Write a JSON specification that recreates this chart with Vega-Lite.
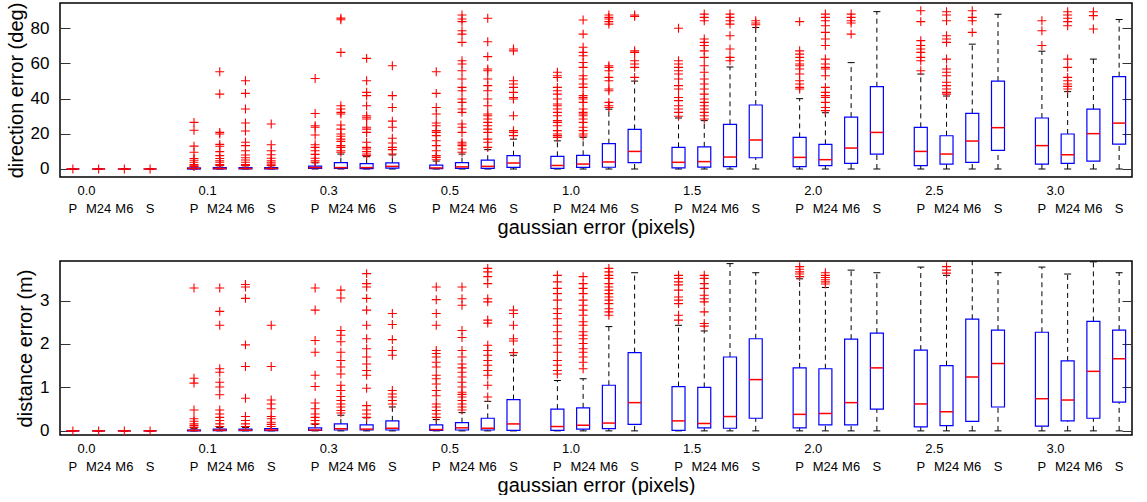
{
  "$schema": "https://vega.github.io/schema/vega-lite/v6.json",
  "padding": {"left": 5, "top": 1, "right": 5, "bottom": 0},
  "config": {
    "font": "Liberation Sans",
    "view": {"stroke": "#000", "strokeWidth": 1.5},
    "axis": {"grid": false, "labelColor": "#000", "titleColor": "#000", "titleFontWeight": "normal"}
  },
  "datasets": {
    "dirBox": [
      {"g": "0.0", "m": "P", "lo": 0, "q1": 0, "med": 0, "q3": 0, "hi": 0},
      {"g": "0.0", "m": "M24", "lo": 0, "q1": 0, "med": 0, "q3": 0, "hi": 0},
      {"g": "0.0", "m": "M6", "lo": 0, "q1": 0, "med": 0, "q3": 0, "hi": 0},
      {"g": "0.0", "m": "S", "lo": 0, "q1": 0, "med": 0, "q3": 0, "hi": 0},
      {"g": "0.1", "m": "P", "lo": 0, "q1": 0, "med": 0.3, "q3": 0.6, "hi": 1.2},
      {"g": "0.1", "m": "M24", "lo": 0, "q1": 0.1, "med": 0.3, "q3": 0.8, "hi": 1.8},
      {"g": "0.1", "m": "M6", "lo": 0, "q1": 0.1, "med": 0.3, "q3": 0.8, "hi": 1.8},
      {"g": "0.1", "m": "S", "lo": 0, "q1": 0.1, "med": 0.3, "q3": 0.8, "hi": 1.8},
      {"g": "0.3", "m": "P", "lo": 0, "q1": 0.3, "med": 0.8, "q3": 1.6, "hi": 3.5},
      {"g": "0.3", "m": "M24", "lo": 0, "q1": 0.3, "med": 0.8, "q3": 3.6, "hi": 8.5},
      {"g": "0.3", "m": "M6", "lo": 0, "q1": 0.2, "med": 0.8, "q3": 3, "hi": 7},
      {"g": "0.3", "m": "S", "lo": 0, "q1": 0.5, "med": 1.5, "q3": 3.5, "hi": 8},
      {"g": "0.5", "m": "P", "lo": 0, "q1": 0.2, "med": 0.6, "q3": 2.2, "hi": 4.5},
      {"g": "0.5", "m": "M24", "lo": 0, "q1": 0.3, "med": 1.2, "q3": 3.6, "hi": 8.5},
      {"g": "0.5", "m": "M6", "lo": 0, "q1": 0.3, "med": 1.5, "q3": 5, "hi": 11},
      {"g": "0.5", "m": "S", "lo": 0, "q1": 0.9, "med": 3.4, "q3": 7.6, "hi": 17},
      {"g": "1.0", "m": "P", "lo": 0, "q1": 0.3, "med": 2, "q3": 7.2, "hi": 16},
      {"g": "1.0", "m": "M24", "lo": 0, "q1": 0.9, "med": 2.8, "q3": 7.8, "hi": 18},
      {"g": "1.0", "m": "M6", "lo": 0, "q1": 1, "med": 4, "q3": 14.4, "hi": 34},
      {"g": "1.0", "m": "S", "lo": 0, "q1": 3.6, "med": 10, "q3": 22.5, "hi": 50},
      {"g": "1.5", "m": "P", "lo": 0, "q1": 0.6, "med": 3.8, "q3": 12.3, "hi": 29},
      {"g": "1.5", "m": "M24", "lo": 0, "q1": 1.1, "med": 4.2, "q3": 12.6, "hi": 27.5},
      {"g": "1.5", "m": "M6", "lo": 0, "q1": 1.3, "med": 6.8, "q3": 25.4, "hi": 58},
      {"g": "1.5", "m": "S", "lo": 0, "q1": 6.4, "med": 16.5, "q3": 36.4, "hi": 80.5},
      {"g": "2.0", "m": "P", "lo": 0, "q1": 1.3, "med": 6.6, "q3": 18, "hi": 40},
      {"g": "2.0", "m": "M24", "lo": 0, "q1": 1.9, "med": 5.3, "q3": 14, "hi": 32},
      {"g": "2.0", "m": "M6", "lo": 0, "q1": 3.2, "med": 11.9, "q3": 29.5, "hi": 60.5},
      {"g": "2.0", "m": "S", "lo": 0, "q1": 8.5, "med": 20.8, "q3": 46.8, "hi": 89.5},
      {"g": "2.5", "m": "P", "lo": 0, "q1": 1.9, "med": 10, "q3": 23.7, "hi": 54},
      {"g": "2.5", "m": "M24", "lo": 0, "q1": 2.8, "med": 8.5, "q3": 18.9, "hi": 41.5},
      {"g": "2.5", "m": "M6", "lo": 0, "q1": 3.8, "med": 15.9, "q3": 31.6, "hi": 71},
      {"g": "2.5", "m": "S", "lo": 0, "q1": 10.6, "med": 23.5, "q3": 50, "hi": 88},
      {"g": "3.0", "m": "P", "lo": 0, "q1": 2.8, "med": 13.3, "q3": 29, "hi": 67},
      {"g": "3.0", "m": "M24", "lo": 0, "q1": 3.2, "med": 8.1, "q3": 19.9, "hi": 44},
      {"g": "3.0", "m": "M6", "lo": 0, "q1": 4.5, "med": 20.1, "q3": 34.1, "hi": 62.5},
      {"g": "3.0", "m": "S", "lo": 0, "q1": 14.2, "med": 26.1, "q3": 52.5, "hi": 85}
    ],
    "dirOut": [
      {"g": "0.0", "m": "P", "v": 0}, {"g": "0.0", "m": "M24", "v": 0}, {"g": "0.0", "m": "M6", "v": 0}, {"g": "0.0", "m": "S", "v": 0},
      {"g": "0.1", "m": "P", "v": 26.5}, {"g": "0.1", "m": "P", "v": 22}, {"g": "0.1", "m": "P", "v": 13}, {"g": "0.1", "m": "P", "v": 9.5}, {"g": "0.1", "m": "P", "v": 6}, {"g": "0.1", "m": "P", "v": 5}, {"g": "0.1", "m": "P", "v": 3.8}, {"g": "0.1", "m": "P", "v": 2.5}, {"g": "0.1", "m": "P", "v": 1.8}, {"g": "0.1", "m": "P", "v": 1.4},
      {"g": "0.1", "m": "M24", "v": 55.3}, {"g": "0.1", "m": "M24", "v": 42.6}, {"g": "0.1", "m": "M24", "v": 20.8}, {"g": "0.1", "m": "M24", "v": 19.9}, {"g": "0.1", "m": "M24", "v": 14}, {"g": "0.1", "m": "M24", "v": 12.9}, {"g": "0.1", "m": "M24", "v": 9.9}, {"g": "0.1", "m": "M24", "v": 7.6}, {"g": "0.1", "m": "M24", "v": 6}, {"g": "0.1", "m": "M24", "v": 4.7}, {"g": "0.1", "m": "M24", "v": 3.8}, {"g": "0.1", "m": "M24", "v": 2.5}, {"g": "0.1", "m": "M24", "v": 2},
      {"g": "0.1", "m": "M6", "v": 50.2}, {"g": "0.1", "m": "M6", "v": 43}, {"g": "0.1", "m": "M6", "v": 34.1}, {"g": "0.1", "m": "M6", "v": 26.2}, {"g": "0.1", "m": "M6", "v": 21.6}, {"g": "0.1", "m": "M6", "v": 15.2}, {"g": "0.1", "m": "M6", "v": 13.3}, {"g": "0.1", "m": "M6", "v": 10.4}, {"g": "0.1", "m": "M6", "v": 8}, {"g": "0.1", "m": "M6", "v": 6.4}, {"g": "0.1", "m": "M6", "v": 5.1}, {"g": "0.1", "m": "M6", "v": 3.8}, {"g": "0.1", "m": "M6", "v": 2.5}, {"g": "0.1", "m": "M6", "v": 2},
      {"g": "0.1", "m": "S", "v": 25.6}, {"g": "0.1", "m": "S", "v": 13.8}, {"g": "0.1", "m": "S", "v": 10.4}, {"g": "0.1", "m": "S", "v": 8.1}, {"g": "0.1", "m": "S", "v": 6.1}, {"g": "0.1", "m": "S", "v": 4.7}, {"g": "0.1", "m": "S", "v": 3.8}, {"g": "0.1", "m": "S", "v": 2.8}, {"g": "0.1", "m": "S", "v": 2},
      {"g": "0.3", "m": "P", "v": 51.5}, {"g": "0.3", "m": "P", "v": 31.6}, {"g": "0.3", "m": "P", "v": 24.6}, {"g": "0.3", "m": "P", "v": 23.7}, {"g": "0.3", "m": "P", "v": 19.3}, {"g": "0.3", "m": "P", "v": 13.8}, {"g": "0.3", "m": "P", "v": 12.3}, {"g": "0.3", "m": "P", "v": 10.4}, {"g": "0.3", "m": "P", "v": 8.3}, {"g": "0.3", "m": "P", "v": 6.1}, {"g": "0.3", "m": "P", "v": 4.7}, {"g": "0.3", "m": "P", "v": 3.8},
      {"g": "0.3", "m": "M24", "v": 85.8}, {"g": "0.3", "m": "M24", "v": 84.9}, {"g": "0.3", "m": "M24", "v": 66.3}, {"g": "0.3", "m": "M24", "v": 36}, {"g": "0.3", "m": "M24", "v": 34.1}, {"g": "0.3", "m": "M24", "v": 32.2}, {"g": "0.3", "m": "M24", "v": 31.3}, {"g": "0.3", "m": "M24", "v": 25}, {"g": "0.3", "m": "M24", "v": 22.7}, {"g": "0.3", "m": "M24", "v": 19.9}, {"g": "0.3", "m": "M24", "v": 18.6}, {"g": "0.3", "m": "M24", "v": 17}, {"g": "0.3", "m": "M24", "v": 15.7}, {"g": "0.3", "m": "M24", "v": 13.3}, {"g": "0.3", "m": "M24", "v": 12.3}, {"g": "0.3", "m": "M24", "v": 10.4}, {"g": "0.3", "m": "M24", "v": 9.5},
      {"g": "0.3", "m": "M6", "v": 62.9}, {"g": "0.3", "m": "M6", "v": 50.2}, {"g": "0.3", "m": "M6", "v": 43.6}, {"g": "0.3", "m": "M6", "v": 41.7}, {"g": "0.3", "m": "M6", "v": 36}, {"g": "0.3", "m": "M6", "v": 30.3}, {"g": "0.3", "m": "M6", "v": 29.4}, {"g": "0.3", "m": "M6", "v": 28.4}, {"g": "0.3", "m": "M6", "v": 23.7}, {"g": "0.3", "m": "M6", "v": 22.7}, {"g": "0.3", "m": "M6", "v": 20.8}, {"g": "0.3", "m": "M6", "v": 15.2}, {"g": "0.3", "m": "M6", "v": 12.3}, {"g": "0.3", "m": "M6", "v": 11.4}, {"g": "0.3", "m": "M6", "v": 9.9}, {"g": "0.3", "m": "M6", "v": 8.5}, {"g": "0.3", "m": "M6", "v": 7.6},
      {"g": "0.3", "m": "S", "v": 58.7}, {"g": "0.3", "m": "S", "v": 41.7}, {"g": "0.3", "m": "S", "v": 35}, {"g": "0.3", "m": "S", "v": 27.2}, {"g": "0.3", "m": "S", "v": 23.7}, {"g": "0.3", "m": "S", "v": 17.5}, {"g": "0.3", "m": "S", "v": 14.8}, {"g": "0.3", "m": "S", "v": 12.3}, {"g": "0.3", "m": "S", "v": 11}, {"g": "0.3", "m": "S", "v": 8.5},
      {"g": "0.5", "m": "P", "v": 55.3}, {"g": "0.5", "m": "P", "v": 43}, {"g": "0.5", "m": "P", "v": 35}, {"g": "0.5", "m": "P", "v": 31.3}, {"g": "0.5", "m": "P", "v": 26.2}, {"g": "0.5", "m": "P", "v": 24.6}, {"g": "0.5", "m": "P", "v": 21.8}, {"g": "0.5", "m": "P", "v": 20.8}, {"g": "0.5", "m": "P", "v": 19}, {"g": "0.5", "m": "P", "v": 16.1}, {"g": "0.5", "m": "P", "v": 13.3}, {"g": "0.5", "m": "P", "v": 10.4}, {"g": "0.5", "m": "P", "v": 7.6}, {"g": "0.5", "m": "P", "v": 6.6}, {"g": "0.5", "m": "P", "v": 5.3},
      {"g": "0.5", "m": "M24", "v": 87.6}, {"g": "0.5", "m": "M24", "v": 85.3}, {"g": "0.5", "m": "M24", "v": 83.8}, {"g": "0.5", "m": "M24", "v": 78.6}, {"g": "0.5", "m": "M24", "v": 76.7}, {"g": "0.5", "m": "M24", "v": 72}, {"g": "0.5", "m": "M24", "v": 61.6}, {"g": "0.5", "m": "M24", "v": 59.7}, {"g": "0.5", "m": "M24", "v": 55.9}, {"g": "0.5", "m": "M24", "v": 51.2}, {"g": "0.5", "m": "M24", "v": 46.4}, {"g": "0.5", "m": "M24", "v": 44.5}, {"g": "0.5", "m": "M24", "v": 39.8}, {"g": "0.5", "m": "M24", "v": 37.9}, {"g": "0.5", "m": "M24", "v": 34.1}, {"g": "0.5", "m": "M24", "v": 32.2}, {"g": "0.5", "m": "M24", "v": 25.6}, {"g": "0.5", "m": "M24", "v": 23.7}, {"g": "0.5", "m": "M24", "v": 20.8}, {"g": "0.5", "m": "M24", "v": 15.2}, {"g": "0.5", "m": "M24", "v": 14.2}, {"g": "0.5", "m": "M24", "v": 13.3}, {"g": "0.5", "m": "M24", "v": 11.4}, {"g": "0.5", "m": "M24", "v": 9.5},
      {"g": "0.5", "m": "M6", "v": 85.7}, {"g": "0.5", "m": "M6", "v": 72.4}, {"g": "0.5", "m": "M6", "v": 63.9}, {"g": "0.5", "m": "M6", "v": 56.9}, {"g": "0.5", "m": "M6", "v": 55.9}, {"g": "0.5", "m": "M6", "v": 51.2}, {"g": "0.5", "m": "M6", "v": 47.4}, {"g": "0.5", "m": "M6", "v": 44.5}, {"g": "0.5", "m": "M6", "v": 39.8}, {"g": "0.5", "m": "M6", "v": 36}, {"g": "0.5", "m": "M6", "v": 31.3}, {"g": "0.5", "m": "M6", "v": 30.3}, {"g": "0.5", "m": "M6", "v": 28.4}, {"g": "0.5", "m": "M6", "v": 26.5}, {"g": "0.5", "m": "M6", "v": 24.6}, {"g": "0.5", "m": "M6", "v": 22.7}, {"g": "0.5", "m": "M6", "v": 20.8}, {"g": "0.5", "m": "M6", "v": 17}, {"g": "0.5", "m": "M6", "v": 15.2}, {"g": "0.5", "m": "M6", "v": 12.3},
      {"g": "0.5", "m": "S", "v": 68.2}, {"g": "0.5", "m": "S", "v": 67.2}, {"g": "0.5", "m": "S", "v": 50.2}, {"g": "0.5", "m": "S", "v": 48.3}, {"g": "0.5", "m": "S", "v": 46.4}, {"g": "0.5", "m": "S", "v": 43.6}, {"g": "0.5", "m": "S", "v": 40.7}, {"g": "0.5", "m": "S", "v": 39.8}, {"g": "0.5", "m": "S", "v": 30.3}, {"g": "0.5", "m": "S", "v": 21.8}, {"g": "0.5", "m": "S", "v": 20.8}, {"g": "0.5", "m": "S", "v": 19},
      {"g": "1.0", "m": "P", "v": 55}, {"g": "1.0", "m": "P", "v": 53}, {"g": "1.0", "m": "P", "v": 52}, {"g": "1.0", "m": "P", "v": 46.4}, {"g": "1.0", "m": "P", "v": 44.5}, {"g": "1.0", "m": "P", "v": 42.6}, {"g": "1.0", "m": "P", "v": 39.8}, {"g": "1.0", "m": "P", "v": 37}, {"g": "1.0", "m": "P", "v": 36}, {"g": "1.0", "m": "P", "v": 34.1}, {"g": "1.0", "m": "P", "v": 32.2}, {"g": "1.0", "m": "P", "v": 30.3}, {"g": "1.0", "m": "P", "v": 27.5}, {"g": "1.0", "m": "P", "v": 26.5}, {"g": "1.0", "m": "P", "v": 24.6}, {"g": "1.0", "m": "P", "v": 21.8}, {"g": "1.0", "m": "P", "v": 19.9}, {"g": "1.0", "m": "P", "v": 19}, {"g": "1.0", "m": "P", "v": 18},
      {"g": "1.0", "m": "M24", "v": 84.7}, {"g": "1.0", "m": "M24", "v": 76.7}, {"g": "1.0", "m": "M24", "v": 69.2}, {"g": "1.0", "m": "M24", "v": 66.3}, {"g": "1.0", "m": "M24", "v": 64.4}, {"g": "1.0", "m": "M24", "v": 60.6}, {"g": "1.0", "m": "M24", "v": 57.8}, {"g": "1.0", "m": "M24", "v": 53}, {"g": "1.0", "m": "M24", "v": 51.2}, {"g": "1.0", "m": "M24", "v": 48.3}, {"g": "1.0", "m": "M24", "v": 46.4}, {"g": "1.0", "m": "M24", "v": 41.7}, {"g": "1.0", "m": "M24", "v": 40.7}, {"g": "1.0", "m": "M24", "v": 39.8}, {"g": "1.0", "m": "M24", "v": 37.9}, {"g": "1.0", "m": "M24", "v": 34.1}, {"g": "1.0", "m": "M24", "v": 32.2}, {"g": "1.0", "m": "M24", "v": 31.3}, {"g": "1.0", "m": "M24", "v": 30.3}, {"g": "1.0", "m": "M24", "v": 28.4}, {"g": "1.0", "m": "M24", "v": 26.5}, {"g": "1.0", "m": "M24", "v": 23.7}, {"g": "1.0", "m": "M24", "v": 21.8}, {"g": "1.0", "m": "M24", "v": 19.9}, {"g": "1.0", "m": "M24", "v": 18.8},
      {"g": "1.0", "m": "M6", "v": 87.6}, {"g": "1.0", "m": "M6", "v": 86.2}, {"g": "1.0", "m": "M6", "v": 85.3}, {"g": "1.0", "m": "M6", "v": 83.8}, {"g": "1.0", "m": "M6", "v": 82.4}, {"g": "1.0", "m": "M6", "v": 58.7}, {"g": "1.0", "m": "M6", "v": 57.8}, {"g": "1.0", "m": "M6", "v": 55.9}, {"g": "1.0", "m": "M6", "v": 52.1}, {"g": "1.0", "m": "M6", "v": 50.2}, {"g": "1.0", "m": "M6", "v": 45.5}, {"g": "1.0", "m": "M6", "v": 44.5}, {"g": "1.0", "m": "M6", "v": 37.9}, {"g": "1.0", "m": "M6", "v": 36}, {"g": "1.0", "m": "M6", "v": 35},
      {"g": "1.0", "m": "S", "v": 87.6}, {"g": "1.0", "m": "S", "v": 86.8}, {"g": "1.0", "m": "S", "v": 67.2}, {"g": "1.0", "m": "S", "v": 66.3}, {"g": "1.0", "m": "S", "v": 61.6}, {"g": "1.0", "m": "S", "v": 59.7}, {"g": "1.0", "m": "S", "v": 57.8}, {"g": "1.0", "m": "S", "v": 52.1},
      {"g": "1.5", "m": "P", "v": 80}, {"g": "1.5", "m": "P", "v": 61.6}, {"g": "1.5", "m": "P", "v": 59.7}, {"g": "1.5", "m": "P", "v": 57.8}, {"g": "1.5", "m": "P", "v": 55.9}, {"g": "1.5", "m": "P", "v": 54}, {"g": "1.5", "m": "P", "v": 51.2}, {"g": "1.5", "m": "P", "v": 47.4}, {"g": "1.5", "m": "P", "v": 45.5}, {"g": "1.5", "m": "P", "v": 40.7}, {"g": "1.5", "m": "P", "v": 38.9}, {"g": "1.5", "m": "P", "v": 36}, {"g": "1.5", "m": "P", "v": 34.1}, {"g": "1.5", "m": "P", "v": 32.2}, {"g": "1.5", "m": "P", "v": 30},
      {"g": "1.5", "m": "M24", "v": 88.1}, {"g": "1.5", "m": "M24", "v": 86.2}, {"g": "1.5", "m": "M24", "v": 84.3}, {"g": "1.5", "m": "M24", "v": 73.9}, {"g": "1.5", "m": "M24", "v": 72}, {"g": "1.5", "m": "M24", "v": 70.2}, {"g": "1.5", "m": "M24", "v": 67.2}, {"g": "1.5", "m": "M24", "v": 63.5}, {"g": "1.5", "m": "M24", "v": 58.7}, {"g": "1.5", "m": "M24", "v": 55}, {"g": "1.5", "m": "M24", "v": 51.2}, {"g": "1.5", "m": "M24", "v": 48.3}, {"g": "1.5", "m": "M24", "v": 45.5}, {"g": "1.5", "m": "M24", "v": 42.6}, {"g": "1.5", "m": "M24", "v": 39.8}, {"g": "1.5", "m": "M24", "v": 37.9}, {"g": "1.5", "m": "M24", "v": 36}, {"g": "1.5", "m": "M24", "v": 34.1}, {"g": "1.5", "m": "M24", "v": 32.2}, {"g": "1.5", "m": "M24", "v": 30.3}, {"g": "1.5", "m": "M24", "v": 28.4},
      {"g": "1.5", "m": "M6", "v": 88.1}, {"g": "1.5", "m": "M6", "v": 86.2}, {"g": "1.5", "m": "M6", "v": 84.3}, {"g": "1.5", "m": "M6", "v": 82.4}, {"g": "1.5", "m": "M6", "v": 75.8}, {"g": "1.5", "m": "M6", "v": 68.2}, {"g": "1.5", "m": "M6", "v": 63.5}, {"g": "1.5", "m": "M6", "v": 61.6},
      {"g": "1.5", "m": "S", "v": 84.3}, {"g": "1.5", "m": "S", "v": 83}, {"g": "1.5", "m": "S", "v": 82},
      {"g": "2.0", "m": "P", "v": 83.8}, {"g": "2.0", "m": "P", "v": 67.2}, {"g": "2.0", "m": "P", "v": 65.3}, {"g": "2.0", "m": "P", "v": 63.5}, {"g": "2.0", "m": "P", "v": 61.6}, {"g": "2.0", "m": "P", "v": 59.7}, {"g": "2.0", "m": "P", "v": 58.7}, {"g": "2.0", "m": "P", "v": 56.9}, {"g": "2.0", "m": "P", "v": 54}, {"g": "2.0", "m": "P", "v": 50.2}, {"g": "2.0", "m": "P", "v": 48.3}, {"g": "2.0", "m": "P", "v": 46.4}, {"g": "2.0", "m": "P", "v": 45.5},
      {"g": "2.0", "m": "M24", "v": 88.1}, {"g": "2.0", "m": "M24", "v": 86.2}, {"g": "2.0", "m": "M24", "v": 84.3}, {"g": "2.0", "m": "M24", "v": 81.5}, {"g": "2.0", "m": "M24", "v": 77.7}, {"g": "2.0", "m": "M24", "v": 73.9}, {"g": "2.0", "m": "M24", "v": 70.2}, {"g": "2.0", "m": "M24", "v": 62.5}, {"g": "2.0", "m": "M24", "v": 59.7}, {"g": "2.0", "m": "M24", "v": 57.8}, {"g": "2.0", "m": "M24", "v": 56.9}, {"g": "2.0", "m": "M24", "v": 53}, {"g": "2.0", "m": "M24", "v": 46.4}, {"g": "2.0", "m": "M24", "v": 43.6}, {"g": "2.0", "m": "M24", "v": 41.7}, {"g": "2.0", "m": "M24", "v": 40.7}, {"g": "2.0", "m": "M24", "v": 37.9}, {"g": "2.0", "m": "M24", "v": 35}, {"g": "2.0", "m": "M24", "v": 33.2},
      {"g": "2.0", "m": "M6", "v": 88.1}, {"g": "2.0", "m": "M6", "v": 86.2}, {"g": "2.0", "m": "M6", "v": 84.3}, {"g": "2.0", "m": "M6", "v": 83}, {"g": "2.0", "m": "M6", "v": 76.7},
      {"g": "2.5", "m": "P", "v": 90}, {"g": "2.5", "m": "P", "v": 83.8}, {"g": "2.5", "m": "P", "v": 73}, {"g": "2.5", "m": "P", "v": 70.2}, {"g": "2.5", "m": "P", "v": 68.2}, {"g": "2.5", "m": "P", "v": 66.3}, {"g": "2.5", "m": "P", "v": 63.5}, {"g": "2.5", "m": "P", "v": 61.6}, {"g": "2.5", "m": "P", "v": 55.9},
      {"g": "2.5", "m": "M24", "v": 89.4}, {"g": "2.5", "m": "M24", "v": 87.6}, {"g": "2.5", "m": "M24", "v": 84.3}, {"g": "2.5", "m": "M24", "v": 75.8}, {"g": "2.5", "m": "M24", "v": 73.9}, {"g": "2.5", "m": "M24", "v": 72}, {"g": "2.5", "m": "M24", "v": 62.5}, {"g": "2.5", "m": "M24", "v": 56.9}, {"g": "2.5", "m": "M24", "v": 55}, {"g": "2.5", "m": "M24", "v": 53}, {"g": "2.5", "m": "M24", "v": 49.3}, {"g": "2.5", "m": "M24", "v": 47.4}, {"g": "2.5", "m": "M24", "v": 45.5}, {"g": "2.5", "m": "M24", "v": 43.6}, {"g": "2.5", "m": "M24", "v": 42.6},
      {"g": "2.5", "m": "M6", "v": 90}, {"g": "2.5", "m": "M6", "v": 86.2}, {"g": "2.5", "m": "M6", "v": 84.3}, {"g": "2.5", "m": "M6", "v": 77.7},
      {"g": "3.0", "m": "P", "v": 84.3}, {"g": "3.0", "m": "P", "v": 78.6}, {"g": "3.0", "m": "P", "v": 70.2},
      {"g": "3.0", "m": "M24", "v": 89.4}, {"g": "3.0", "m": "M24", "v": 87.6}, {"g": "3.0", "m": "M24", "v": 85.7}, {"g": "3.0", "m": "M24", "v": 83.8}, {"g": "3.0", "m": "M24", "v": 81.5}, {"g": "3.0", "m": "M24", "v": 62.5}, {"g": "3.0", "m": "M24", "v": 57.8}, {"g": "3.0", "m": "M24", "v": 52.1}, {"g": "3.0", "m": "M24", "v": 50.2}, {"g": "3.0", "m": "M24", "v": 48.3}, {"g": "3.0", "m": "M24", "v": 47}, {"g": "3.0", "m": "M24", "v": 45.5},
      {"g": "3.0", "m": "M6", "v": 89.4}, {"g": "3.0", "m": "M6", "v": 87.2}, {"g": "3.0", "m": "M6", "v": 79.6}
    ],
    "distBox": [
      {"g": "0.0", "m": "P", "lo": 0, "q1": 0, "med": 0, "q3": 0, "hi": 0},
      {"g": "0.0", "m": "M24", "lo": 0, "q1": 0, "med": 0, "q3": 0, "hi": 0},
      {"g": "0.0", "m": "M6", "lo": 0, "q1": 0, "med": 0, "q3": 0, "hi": 0},
      {"g": "0.0", "m": "S", "lo": 0, "q1": 0, "med": 0, "q3": 0, "hi": 0},
      {"g": "0.1", "m": "P", "lo": 0, "q1": 0, "med": 0.01, "q3": 0.02, "hi": 0.05},
      {"g": "0.1", "m": "M24", "lo": 0, "q1": 0.005, "med": 0.015, "q3": 0.04, "hi": 0.08},
      {"g": "0.1", "m": "M6", "lo": 0, "q1": 0.005, "med": 0.015, "q3": 0.04, "hi": 0.08},
      {"g": "0.1", "m": "S", "lo": 0, "q1": 0.005, "med": 0.02, "q3": 0.05, "hi": 0.1},
      {"g": "0.3", "m": "P", "lo": 0, "q1": 0.01, "med": 0.02, "q3": 0.07, "hi": 0.15},
      {"g": "0.3", "m": "M24", "lo": 0, "q1": 0.02, "med": 0.05, "q3": 0.16, "hi": 0.36},
      {"g": "0.3", "m": "M6", "lo": 0, "q1": 0.02, "med": 0.04, "q3": 0.14, "hi": 0.3},
      {"g": "0.3", "m": "S", "lo": 0, "q1": 0.02, "med": 0.06, "q3": 0.23, "hi": 0.55},
      {"g": "0.5", "m": "P", "lo": 0, "q1": 0.01, "med": 0.03, "q3": 0.14, "hi": 0.26},
      {"g": "0.5", "m": "M24", "lo": 0, "q1": 0.02, "med": 0.07, "q3": 0.19, "hi": 0.42},
      {"g": "0.5", "m": "M6", "lo": 0, "q1": 0.02, "med": 0.06, "q3": 0.29, "hi": 0.68},
      {"g": "0.5", "m": "S", "lo": 0, "q1": 0.01, "med": 0.16, "q3": 0.72, "hi": 1.74},
      {"g": "1.0", "m": "P", "lo": 0, "q1": 0.01, "med": 0.1, "q3": 0.5, "hi": 1.16},
      {"g": "1.0", "m": "M24", "lo": 0, "q1": 0.04, "med": 0.13, "q3": 0.53, "hi": 1.2},
      {"g": "1.0", "m": "M6", "lo": 0, "q1": 0.05, "med": 0.18, "q3": 1.05, "hi": 2.4},
      {"g": "1.0", "m": "S", "lo": 0, "q1": 0.15, "med": 0.65, "q3": 1.8, "hi": 3.64},
      {"g": "1.5", "m": "P", "lo": 0, "q1": 0.01, "med": 0.23, "q3": 1.02, "hi": 2.43},
      {"g": "1.5", "m": "M24", "lo": 0, "q1": 0.07, "med": 0.17, "q3": 1.0, "hi": 2.3},
      {"g": "1.5", "m": "M6", "lo": 0, "q1": 0.06, "med": 0.33, "q3": 1.7, "hi": 3.85},
      {"g": "1.5", "m": "S", "lo": 0, "q1": 0.29, "med": 1.18, "q3": 2.12, "hi": 3.64},
      {"g": "2.0", "m": "P", "lo": 0, "q1": 0.07, "med": 0.38, "q3": 1.45, "hi": 3.5},
      {"g": "2.0", "m": "M24", "lo": 0, "q1": 0.14, "med": 0.4, "q3": 1.43, "hi": 3.3},
      {"g": "2.0", "m": "M6", "lo": 0, "q1": 0.14, "med": 0.65, "q3": 2.11, "hi": 3.7},
      {"g": "2.0", "m": "S", "lo": 0, "q1": 0.5, "med": 1.45, "q3": 2.25, "hi": 3.64},
      {"g": "2.5", "m": "P", "lo": 0, "q1": 0.09, "med": 0.62, "q3": 1.86, "hi": 3.77},
      {"g": "2.5", "m": "M24", "lo": 0, "q1": 0.12, "med": 0.44, "q3": 1.5, "hi": 3.58},
      {"g": "2.5", "m": "M6", "lo": 0, "q1": 0.22, "med": 1.24, "q3": 2.57, "hi": 3.95},
      {"g": "2.5", "m": "S", "lo": 0, "q1": 0.55, "med": 1.55, "q3": 2.32, "hi": 3.64},
      {"g": "3.0", "m": "P", "lo": 0, "q1": 0.11, "med": 0.74, "q3": 2.27, "hi": 3.77},
      {"g": "3.0", "m": "M24", "lo": 0, "q1": 0.23, "med": 0.71, "q3": 1.61, "hi": 3.61},
      {"g": "3.0", "m": "M6", "lo": 0, "q1": 0.29, "med": 1.37, "q3": 2.52, "hi": 3.89},
      {"g": "3.0", "m": "S", "lo": 0, "q1": 0.66, "med": 1.66, "q3": 2.32, "hi": 3.64}
    ],
    "distOut": [
      {"g": "0.0", "m": "P", "v": 0}, {"g": "0.0", "m": "M24", "v": 0}, {"g": "0.0", "m": "M6", "v": 0}, {"g": "0.0", "m": "S", "v": 0},
      {"g": "0.1", "m": "P", "v": 3.29}, {"g": "0.1", "m": "P", "v": 1.21}, {"g": "0.1", "m": "P", "v": 1.1}, {"g": "0.1", "m": "P", "v": 0.48}, {"g": "0.1", "m": "P", "v": 0.28}, {"g": "0.1", "m": "P", "v": 0.22}, {"g": "0.1", "m": "P", "v": 0.16}, {"g": "0.1", "m": "P", "v": 0.12}, {"g": "0.1", "m": "P", "v": 0.08},
      {"g": "0.1", "m": "M24", "v": 3.29}, {"g": "0.1", "m": "M24", "v": 2.75}, {"g": "0.1", "m": "M24", "v": 2.43}, {"g": "0.1", "m": "M24", "v": 1.43}, {"g": "0.1", "m": "M24", "v": 1.35}, {"g": "0.1", "m": "M24", "v": 1.12}, {"g": "0.1", "m": "M24", "v": 1.01}, {"g": "0.1", "m": "M24", "v": 0.83}, {"g": "0.1", "m": "M24", "v": 0.48}, {"g": "0.1", "m": "M24", "v": 0.39}, {"g": "0.1", "m": "M24", "v": 0.31}, {"g": "0.1", "m": "M24", "v": 0.24}, {"g": "0.1", "m": "M24", "v": 0.16}, {"g": "0.1", "m": "M24", "v": 0.1},
      {"g": "0.1", "m": "M6", "v": 3.37}, {"g": "0.1", "m": "M6", "v": 3.31}, {"g": "0.1", "m": "M6", "v": 3.05}, {"g": "0.1", "m": "M6", "v": 1.98}, {"g": "0.1", "m": "M6", "v": 1.48}, {"g": "0.1", "m": "M6", "v": 0.75}, {"g": "0.1", "m": "M6", "v": 0.33}, {"g": "0.1", "m": "M6", "v": 0.24}, {"g": "0.1", "m": "M6", "v": 0.16}, {"g": "0.1", "m": "M6", "v": 0.1},
      {"g": "0.1", "m": "S", "v": 2.43}, {"g": "0.1", "m": "S", "v": 1.48}, {"g": "0.1", "m": "S", "v": 0.71}, {"g": "0.1", "m": "S", "v": 0.62}, {"g": "0.1", "m": "S", "v": 0.51}, {"g": "0.1", "m": "S", "v": 0.33}, {"g": "0.1", "m": "S", "v": 0.28}, {"g": "0.1", "m": "S", "v": 0.2}, {"g": "0.1", "m": "S", "v": 0.15}, {"g": "0.1", "m": "S", "v": 0.1},
      {"g": "0.3", "m": "P", "v": 3.29}, {"g": "0.3", "m": "P", "v": 2.78}, {"g": "0.3", "m": "P", "v": 2.08}, {"g": "0.3", "m": "P", "v": 1.81}, {"g": "0.3", "m": "P", "v": 1.28}, {"g": "0.3", "m": "P", "v": 1.02}, {"g": "0.3", "m": "P", "v": 0.64}, {"g": "0.3", "m": "P", "v": 0.51}, {"g": "0.3", "m": "P", "v": 0.39}, {"g": "0.3", "m": "P", "v": 0.31}, {"g": "0.3", "m": "P", "v": 0.24}, {"g": "0.3", "m": "P", "v": 0.16},
      {"g": "0.3", "m": "M24", "v": 3.24}, {"g": "0.3", "m": "M24", "v": 3.06}, {"g": "0.3", "m": "M24", "v": 2.31}, {"g": "0.3", "m": "M24", "v": 2.2}, {"g": "0.3", "m": "M24", "v": 2.05}, {"g": "0.3", "m": "M24", "v": 1.81}, {"g": "0.3", "m": "M24", "v": 1.62}, {"g": "0.3", "m": "M24", "v": 1.47}, {"g": "0.3", "m": "M24", "v": 1.31}, {"g": "0.3", "m": "M24", "v": 1.05}, {"g": "0.3", "m": "M24", "v": 0.93}, {"g": "0.3", "m": "M24", "v": 0.79}, {"g": "0.3", "m": "M24", "v": 0.7}, {"g": "0.3", "m": "M24", "v": 0.62}, {"g": "0.3", "m": "M24", "v": 0.55}, {"g": "0.3", "m": "M24", "v": 0.47}, {"g": "0.3", "m": "M24", "v": 0.41},
      {"g": "0.3", "m": "M6", "v": 3.62}, {"g": "0.3", "m": "M6", "v": 3.39}, {"g": "0.3", "m": "M6", "v": 3.31}, {"g": "0.3", "m": "M6", "v": 3.05}, {"g": "0.3", "m": "M6", "v": 2.78}, {"g": "0.3", "m": "M6", "v": 2.43}, {"g": "0.3", "m": "M6", "v": 2.12}, {"g": "0.3", "m": "M6", "v": 1.89}, {"g": "0.3", "m": "M6", "v": 1.7}, {"g": "0.3", "m": "M6", "v": 1.54}, {"g": "0.3", "m": "M6", "v": 1.39}, {"g": "0.3", "m": "M6", "v": 1.28}, {"g": "0.3", "m": "M6", "v": 0.98}, {"g": "0.3", "m": "M6", "v": 0.58}, {"g": "0.3", "m": "M6", "v": 0.48}, {"g": "0.3", "m": "M6", "v": 0.39}, {"g": "0.3", "m": "M6", "v": 0.31},
      {"g": "0.3", "m": "S", "v": 2.7}, {"g": "0.3", "m": "S", "v": 2.45}, {"g": "0.3", "m": "S", "v": 2.1}, {"g": "0.3", "m": "S", "v": 1.85}, {"g": "0.3", "m": "S", "v": 1.74}, {"g": "0.3", "m": "S", "v": 0.93}, {"g": "0.3", "m": "S", "v": 0.85}, {"g": "0.3", "m": "S", "v": 0.78}, {"g": "0.3", "m": "S", "v": 0.7}, {"g": "0.3", "m": "S", "v": 0.62},
      {"g": "0.5", "m": "P", "v": 3.31}, {"g": "0.5", "m": "P", "v": 3.02}, {"g": "0.5", "m": "P", "v": 2.7}, {"g": "0.5", "m": "P", "v": 2.43}, {"g": "0.5", "m": "P", "v": 1.85}, {"g": "0.5", "m": "P", "v": 1.78}, {"g": "0.5", "m": "P", "v": 1.7}, {"g": "0.5", "m": "P", "v": 1.58}, {"g": "0.5", "m": "P", "v": 1.47}, {"g": "0.5", "m": "P", "v": 1.28}, {"g": "0.5", "m": "P", "v": 1.2}, {"g": "0.5", "m": "P", "v": 1.08}, {"g": "0.5", "m": "P", "v": 0.93}, {"g": "0.5", "m": "P", "v": 0.81}, {"g": "0.5", "m": "P", "v": 0.62}, {"g": "0.5", "m": "P", "v": 0.55}, {"g": "0.5", "m": "P", "v": 0.47}, {"g": "0.5", "m": "P", "v": 0.39}, {"g": "0.5", "m": "P", "v": 0.31},
      {"g": "0.5", "m": "M24", "v": 3.31}, {"g": "0.5", "m": "M24", "v": 3.04}, {"g": "0.5", "m": "M24", "v": 2.89}, {"g": "0.5", "m": "M24", "v": 2.31}, {"g": "0.5", "m": "M24", "v": 2.15}, {"g": "0.5", "m": "M24", "v": 1.85}, {"g": "0.5", "m": "M24", "v": 1.7}, {"g": "0.5", "m": "M24", "v": 1.54}, {"g": "0.5", "m": "M24", "v": 1.45}, {"g": "0.5", "m": "M24", "v": 1.35}, {"g": "0.5", "m": "M24", "v": 1.24}, {"g": "0.5", "m": "M24", "v": 1.12}, {"g": "0.5", "m": "M24", "v": 1.01}, {"g": "0.5", "m": "M24", "v": 0.89}, {"g": "0.5", "m": "M24", "v": 0.84}, {"g": "0.5", "m": "M24", "v": 0.78}, {"g": "0.5", "m": "M24", "v": 0.7}, {"g": "0.5", "m": "M24", "v": 0.62}, {"g": "0.5", "m": "M24", "v": 0.55}, {"g": "0.5", "m": "M24", "v": 0.48},
      {"g": "0.5", "m": "M6", "v": 3.74}, {"g": "0.5", "m": "M6", "v": 3.66}, {"g": "0.5", "m": "M6", "v": 3.55}, {"g": "0.5", "m": "M6", "v": 3.39}, {"g": "0.5", "m": "M6", "v": 3.04}, {"g": "0.5", "m": "M6", "v": 2.97}, {"g": "0.5", "m": "M6", "v": 2.55}, {"g": "0.5", "m": "M6", "v": 2.48}, {"g": "0.5", "m": "M6", "v": 1.97}, {"g": "0.5", "m": "M6", "v": 1.85}, {"g": "0.5", "m": "M6", "v": 1.74}, {"g": "0.5", "m": "M6", "v": 1.62}, {"g": "0.5", "m": "M6", "v": 1.51}, {"g": "0.5", "m": "M6", "v": 1.39}, {"g": "0.5", "m": "M6", "v": 1.28}, {"g": "0.5", "m": "M6", "v": 1.05}, {"g": "0.5", "m": "M6", "v": 0.78},
      {"g": "0.5", "m": "S", "v": 2.78}, {"g": "0.5", "m": "S", "v": 2.7}, {"g": "0.5", "m": "S", "v": 2.43}, {"g": "0.5", "m": "S", "v": 2.12}, {"g": "0.5", "m": "S", "v": 2.07}, {"g": "0.5", "m": "S", "v": 1.8},
      {"g": "1.0", "m": "P", "v": 3.58}, {"g": "1.0", "m": "P", "v": 3.43}, {"g": "1.0", "m": "P", "v": 3.28}, {"g": "1.0", "m": "P", "v": 3.16}, {"g": "1.0", "m": "P", "v": 3.01}, {"g": "1.0", "m": "P", "v": 2.81}, {"g": "1.0", "m": "P", "v": 2.7}, {"g": "1.0", "m": "P", "v": 2.58}, {"g": "1.0", "m": "P", "v": 2.43}, {"g": "1.0", "m": "P", "v": 2.28}, {"g": "1.0", "m": "P", "v": 2.12}, {"g": "1.0", "m": "P", "v": 1.97}, {"g": "1.0", "m": "P", "v": 1.81}, {"g": "1.0", "m": "P", "v": 1.62}, {"g": "1.0", "m": "P", "v": 1.51}, {"g": "1.0", "m": "P", "v": 1.39}, {"g": "1.0", "m": "P", "v": 1.31},
      {"g": "1.0", "m": "M24", "v": 3.55}, {"g": "1.0", "m": "M24", "v": 3.39}, {"g": "1.0", "m": "M24", "v": 3.28}, {"g": "1.0", "m": "M24", "v": 3.16}, {"g": "1.0", "m": "M24", "v": 3.01}, {"g": "1.0", "m": "M24", "v": 2.89}, {"g": "1.0", "m": "M24", "v": 2.78}, {"g": "1.0", "m": "M24", "v": 2.66}, {"g": "1.0", "m": "M24", "v": 2.51}, {"g": "1.0", "m": "M24", "v": 2.43}, {"g": "1.0", "m": "M24", "v": 2.28}, {"g": "1.0", "m": "M24", "v": 2.2}, {"g": "1.0", "m": "M24", "v": 2.12}, {"g": "1.0", "m": "M24", "v": 2.01}, {"g": "1.0", "m": "M24", "v": 1.89}, {"g": "1.0", "m": "M24", "v": 1.81}, {"g": "1.0", "m": "M24", "v": 1.7}, {"g": "1.0", "m": "M24", "v": 1.58}, {"g": "1.0", "m": "M24", "v": 1.43},
      {"g": "1.0", "m": "M6", "v": 3.74}, {"g": "1.0", "m": "M6", "v": 3.66}, {"g": "1.0", "m": "M6", "v": 3.58}, {"g": "1.0", "m": "M6", "v": 3.51}, {"g": "1.0", "m": "M6", "v": 3.39}, {"g": "1.0", "m": "M6", "v": 3.31}, {"g": "1.0", "m": "M6", "v": 3.24}, {"g": "1.0", "m": "M6", "v": 3.16}, {"g": "1.0", "m": "M6", "v": 3.08}, {"g": "1.0", "m": "M6", "v": 3.01}, {"g": "1.0", "m": "M6", "v": 2.93}, {"g": "1.0", "m": "M6", "v": 2.81}, {"g": "1.0", "m": "M6", "v": 2.74}, {"g": "1.0", "m": "M6", "v": 2.66},
      {"g": "1.5", "m": "P", "v": 3.58}, {"g": "1.5", "m": "P", "v": 3.51}, {"g": "1.5", "m": "P", "v": 3.43}, {"g": "1.5", "m": "P", "v": 3.36}, {"g": "1.5", "m": "P", "v": 3.24}, {"g": "1.5", "m": "P", "v": 3.08}, {"g": "1.5", "m": "P", "v": 3.01}, {"g": "1.5", "m": "P", "v": 2.93}, {"g": "1.5", "m": "P", "v": 2.66}, {"g": "1.5", "m": "P", "v": 2.55},
      {"g": "1.5", "m": "M24", "v": 3.58}, {"g": "1.5", "m": "M24", "v": 3.51}, {"g": "1.5", "m": "M24", "v": 3.39}, {"g": "1.5", "m": "M24", "v": 3.28}, {"g": "1.5", "m": "M24", "v": 3.12}, {"g": "1.5", "m": "M24", "v": 3.04}, {"g": "1.5", "m": "M24", "v": 2.97}, {"g": "1.5", "m": "M24", "v": 2.74}, {"g": "1.5", "m": "M24", "v": 2.47}, {"g": "1.5", "m": "M24", "v": 2.41},
      {"g": "2.0", "m": "P", "v": 3.78}, {"g": "2.0", "m": "P", "v": 3.72}, {"g": "2.0", "m": "P", "v": 3.66}, {"g": "2.0", "m": "P", "v": 3.61}, {"g": "2.0", "m": "P", "v": 3.55},
      {"g": "2.0", "m": "M24", "v": 3.64}, {"g": "2.0", "m": "M24", "v": 3.58}, {"g": "2.0", "m": "M24", "v": 3.53}, {"g": "2.0", "m": "M24", "v": 3.48}, {"g": "2.0", "m": "M24", "v": 3.43}, {"g": "2.0", "m": "M24", "v": 3.38},
      {"g": "2.5", "m": "M24", "v": 3.78}, {"g": "2.5", "m": "M24", "v": 3.7}, {"g": "2.5", "m": "M24", "v": 3.63}
    ]
  },
  "spacing": 23,
  "vconcat": [
    {
      "spacing": 0,
      "vconcat": [
        {
          "width": 1072,
          "height": 174,
          "encoding": {
            "x": {"field": "g", "type": "nominal", "scale": {"domain": ["0.0", "0.1", "0.3", "0.5", "1.0", "1.5", "2.0", "2.5", "3.0"], "paddingInner": 0.15, "paddingOuter": 0}, "axis": {"title": null, "labelAngle": 0, "ticks": false, "domain": false, "labelOffset": -25, "labelPadding": 7, "labelFontSize": 13}},
            "xOffset": {"field": "m", "type": "nominal", "scale": {"domain": ["P", "M24", "M6", "S"], "paddingInner": 0, "paddingOuter": 0}}
          },
          "layer": [
            {
              "data": {"name": "dirBox"},
              "mark": {"type": "rule", "strokeDash": [5, 4], "color": "#000", "strokeWidth": 1, "clip": true},
              "encoding": {
                "y": {"field": "q3", "type": "quantitative", "scale": {"domain": [-4.55, 94.4], "nice": false, "zero": false}, "axis": {"orient": "left", "values": [0, 20, 40, 60, 80], "tickSize": -10, "tickColor": "#333", "labelFontSize": 17, "labelPadding": 21, "domain": false, "title": "direction error (deg)", "titleFontSize": 20, "titlePadding": 4}},
                "y2": {"field": "hi"}
              }
            },
            {
              "data": {"name": "dirBox"},
              "mark": {"type": "rule", "strokeDash": [5, 4], "color": "#000", "strokeWidth": 1, "clip": true},
              "encoding": {"y": {"field": "lo", "type": "quantitative", "axis": null}, "y2": {"field": "q1"}}
            },
            {
              "data": {"name": "dirBox"},
              "mark": {"type": "tick", "size": 7, "thickness": 1, "color": "#000", "opacity": 1, "clip": true},
              "encoding": {"y": {"field": "hi", "type": "quantitative", "axis": null}}
            },
            {
              "data": {"name": "dirBox"},
              "mark": {"type": "tick", "size": 7, "thickness": 1, "color": "#000", "opacity": 1, "clip": true},
              "encoding": {"y": {"field": "lo", "type": "quantitative", "axis": null}}
            },
            {
              "data": {"name": "dirBox"},
              "mark": {"type": "bar", "width": 13, "fill": "transparent", "stroke": "#0000ff", "strokeWidth": 1.2, "clip": true},
              "encoding": {"y": {"field": "q1", "type": "quantitative", "axis": null}, "y2": {"field": "q3"}}
            },
            {
              "data": {"name": "dirBox"},
              "mark": {"type": "tick", "size": 13, "thickness": 1.5, "color": "#ff0000", "opacity": 1, "clip": true},
              "encoding": {"y": {"field": "med", "type": "quantitative", "axis": {"orient": "right", "values": [0, 20, 40, 60, 80], "labels": false, "tickSize": -10, "tickColor": "#333", "domain": false, "title": null}}}
            },
            {
              "data": {"name": "dirOut"},
              "mark": {"type": "point", "shape": "M-1,0L1,0M0,-1L0,1", "size": 80, "filled": false, "color": "#ff0000", "strokeWidth": 1.1, "opacity": 1, "clip": true},
              "encoding": {"y": {"field": "v", "type": "quantitative", "axis": null}}
            }
          ],
          "resolve": {"axis": {"y": "independent"}}
        },
        {
          "width": 1072,
          "height": 18,
          "view": {"stroke": null},
          "data": {"name": "dirBox"},
          "mark": {"type": "text", "fontSize": 13, "dy": 2, "color": "#000"},
          "encoding": {
            "x": {"field": "g", "type": "nominal", "scale": {"domain": ["0.0", "0.1", "0.3", "0.5", "1.0", "1.5", "2.0", "2.5", "3.0"], "paddingInner": 0.15, "paddingOuter": 0}, "axis": {"title": "gaussian error (pixels)", "labels": false, "ticks": false, "domain": false, "titleFontSize": 20, "titlePadding": 1}},
            "xOffset": {"field": "m", "type": "nominal", "scale": {"domain": ["P", "M24", "M6", "S"], "paddingInner": 0, "paddingOuter": 0}},
            "text": {"field": "m"}
          }
        }
      ]
    },
    {
      "spacing": 0,
      "vconcat": [
        {
          "width": 1072,
          "height": 174,
          "encoding": {
            "x": {"field": "g", "type": "nominal", "scale": {"domain": ["0.0", "0.1", "0.3", "0.5", "1.0", "1.5", "2.0", "2.5", "3.0"], "paddingInner": 0.15, "paddingOuter": 0}, "axis": {"title": null, "labelAngle": 0, "ticks": false, "domain": false, "labelOffset": -25, "labelPadding": 7, "labelFontSize": 13}},
            "xOffset": {"field": "m", "type": "nominal", "scale": {"domain": ["P", "M24", "M6", "S"], "paddingInner": 0, "paddingOuter": 0}}
          },
          "layer": [
            {
              "data": {"name": "distBox"},
              "mark": {"type": "rule", "strokeDash": [5, 4], "color": "#000", "strokeWidth": 1, "clip": true},
              "encoding": {
                "y": {"field": "q3", "type": "quantitative", "scale": {"domain": [-0.095, 3.91], "nice": false, "zero": false}, "axis": {"orient": "left", "values": [0, 1, 2, 3], "tickSize": -10, "tickColor": "#333", "labelFontSize": 17, "labelPadding": 21, "domain": false, "title": "distance error (m)", "titleFontSize": 20, "titlePadding": 4}},
                "y2": {"field": "hi"}
              }
            },
            {
              "data": {"name": "distBox"},
              "mark": {"type": "rule", "strokeDash": [5, 4], "color": "#000", "strokeWidth": 1, "clip": true},
              "encoding": {"y": {"field": "lo", "type": "quantitative", "axis": null}, "y2": {"field": "q1"}}
            },
            {
              "data": {"name": "distBox"},
              "mark": {"type": "tick", "size": 7, "thickness": 1, "color": "#000", "opacity": 1, "clip": true},
              "encoding": {"y": {"field": "hi", "type": "quantitative", "axis": null}}
            },
            {
              "data": {"name": "distBox"},
              "mark": {"type": "tick", "size": 7, "thickness": 1, "color": "#000", "opacity": 1, "clip": true},
              "encoding": {"y": {"field": "lo", "type": "quantitative", "axis": null}}
            },
            {
              "data": {"name": "distBox"},
              "mark": {"type": "bar", "width": 13, "fill": "transparent", "stroke": "#0000ff", "strokeWidth": 1.2, "clip": true},
              "encoding": {"y": {"field": "q1", "type": "quantitative", "axis": null}, "y2": {"field": "q3"}}
            },
            {
              "data": {"name": "distBox"},
              "mark": {"type": "tick", "size": 13, "thickness": 1.5, "color": "#ff0000", "opacity": 1, "clip": true},
              "encoding": {"y": {"field": "med", "type": "quantitative", "axis": {"orient": "right", "values": [0, 1, 2, 3], "labels": false, "tickSize": -10, "tickColor": "#333", "domain": false, "title": null}}}
            },
            {
              "data": {"name": "distOut"},
              "mark": {"type": "point", "shape": "M-1,0L1,0M0,-1L0,1", "size": 80, "filled": false, "color": "#ff0000", "strokeWidth": 1.1, "opacity": 1, "clip": true},
              "encoding": {"y": {"field": "v", "type": "quantitative", "axis": null}}
            }
          ],
          "resolve": {"axis": {"y": "independent"}}
        },
        {
          "width": 1072,
          "height": 18,
          "view": {"stroke": null},
          "data": {"name": "distBox"},
          "mark": {"type": "text", "fontSize": 13, "dy": 2, "color": "#000"},
          "encoding": {
            "x": {"field": "g", "type": "nominal", "scale": {"domain": ["0.0", "0.1", "0.3", "0.5", "1.0", "1.5", "2.0", "2.5", "3.0"], "paddingInner": 0.15, "paddingOuter": 0}, "axis": {"title": "gaussian error (pixels)", "labels": false, "ticks": false, "domain": false, "titleFontSize": 20, "titlePadding": 1}},
            "xOffset": {"field": "m", "type": "nominal", "scale": {"domain": ["P", "M24", "M6", "S"], "paddingInner": 0, "paddingOuter": 0}},
            "text": {"field": "m"}
          }
        }
      ]
    }
  ]
}
